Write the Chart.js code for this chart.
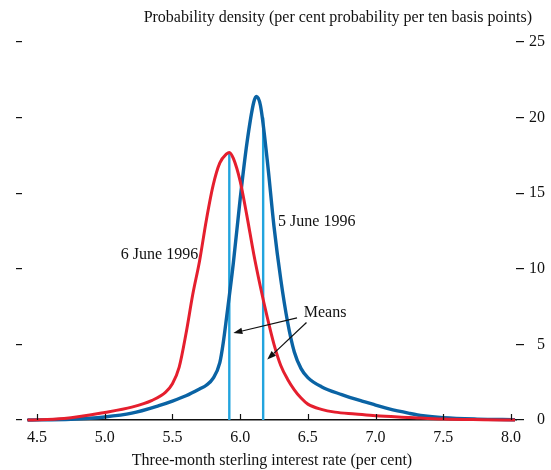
<!DOCTYPE html>
<html>
<head>
<meta charset="utf-8">
<script src="https://cdn.jsdelivr.net/npm/chart.js@4/dist/chart.umd.min.js"></script>
<style>
  html, body { margin: 0; padding: 0; background: #fff; }
  #wrap { width: 551px; height: 470px; }
</style>
</head>
<body>
<div id="wrap"><canvas id="c" width="551" height="470"></canvas></div>
<script>
// Three-month sterling interest rate (per cent)
const rates5June = [4.43, 4.75, 5.0, 5.2, 5.4, 5.5, 5.6, 5.7, 5.75, 5.8, 5.85, 5.875, 5.9, 5.95, 6.0, 6.05, 6.1, 6.12, 6.15, 6.2, 6.25, 6.3, 6.35, 6.4, 6.45, 6.5, 6.6, 6.75, 6.9, 7.0, 7.1, 7.25, 7.35, 7.5, 7.75, 8.03];
// Probability density, 5 June 1996
const density5June = [0, 0.05, 0.2, 0.45, 0.95, 1.25, 1.6, 2.05, 2.3, 2.75, 3.8, 5.1, 6.8, 10.4, 14.6, 18.3, 21.0, 21.4, 20.8, 17.2, 12.8, 9.3, 6.5, 4.5, 3.4, 2.8, 2.2, 1.68, 1.25, 0.99, 0.73, 0.44, 0.28, 0.15, 0.06, 0.02];

const rates6June = [4.43, 4.7, 5.0, 5.2, 5.35, 5.45, 5.5, 5.55, 5.6, 5.65, 5.7, 5.75, 5.8, 5.85, 5.9, 5.92, 5.95, 6.0, 6.05, 6.1, 6.15, 6.2, 6.25, 6.3, 6.35, 6.4, 6.45, 6.5, 6.6, 6.7, 6.85, 7.0, 7.25, 7.5, 7.8, 8.03];
// Probability density, 6 June 1996
const density6June = [0, 0.1, 0.5, 0.85, 1.3, 1.85, 2.4, 3.5, 5.7, 8.3, 10.5, 13.2, 15.5, 17.0, 17.6, 17.7, 17.3, 15.8, 13.5, 11.0, 8.8, 6.8, 5.0, 3.6, 2.7, 2.0, 1.45, 1.05, 0.7, 0.52, 0.4, 0.28, 0.17, 0.06, 0.02, 0];

// Means of the two distributions and the density at each mean
const meanRates = [5.92, 6.17];
const meanDensities = [17.7, 20.0];

const xTicks = [4.5, 5.0, 5.5, 6.0, 6.5, 7.0, 7.5, 8.0];
const yTicks = [0, 5, 10, 15, 20, 25];

const RED = '#e51f2e';
const BLUE = '#0a63a4';
const CYAN = '#22a4de';
const SERIF = '"Liberation Serif", "DejaVu Serif", serif';
const FONT_SIZE = 16;

const pts = (xs, ys) => xs.map((x, i) => ({ x: x, y: ys[i] }));

// Callouts in data coordinates
const annotations = {
  texts: [
    { text: '6 June 1996', x: 5.69, y: 10.9, align: 'right' },
    { text: '5 June 1996', x: 6.28, y: 13.1, align: 'left' },
    { text: 'Means', x: 6.47, y: 7.1, align: 'left' }
  ],
  arrows: [
    { from: [6.42, 6.75], to: [5.95, 5.75] },
    { from: [6.49, 6.45], to: [6.2, 4.0] }
  ]
};

const annotationPlugin = {
  id: 'callouts',
  afterDatasetsDraw(chart) {
    const { ctx, scales } = chart;
    const xs = scales.x, ys = scales.y;
    ctx.save();
    ctx.font = FONT_SIZE + 'px ' + SERIF;
    ctx.fillStyle = '#111';
    ctx.textBaseline = 'middle';
    annotations.texts.forEach(t => {
      ctx.textAlign = t.align;
      ctx.fillText(t.text, xs.getPixelForValue(t.x), ys.getPixelForValue(t.y));
    });
    ctx.strokeStyle = '#111';
    ctx.fillStyle = '#111';
    ctx.lineWidth = 1.2;
    annotations.arrows.forEach(a => {
      const x1 = xs.getPixelForValue(a.from[0]), y1 = ys.getPixelForValue(a.from[1]);
      const x2 = xs.getPixelForValue(a.to[0]), y2 = ys.getPixelForValue(a.to[1]);
      const ang = Math.atan2(y2 - y1, x2 - x1);
      const hl = 9, hw = 3.2;
      const bx = x2 - hl * Math.cos(ang), by = y2 - hl * Math.sin(ang);
      ctx.beginPath();
      ctx.moveTo(x1, y1);
      ctx.lineTo(bx, by);
      ctx.stroke();
      ctx.beginPath();
      ctx.moveTo(x2, y2);
      ctx.lineTo(bx + hw * Math.sin(ang), by - hw * Math.cos(ang));
      ctx.lineTo(bx - hw * Math.sin(ang), by + hw * Math.cos(ang));
      ctx.closePath();
      ctx.fill();
    });
    // value-axis caption above the plot, right aligned
    ctx.textAlign = 'right';
    ctx.textBaseline = 'middle';
    ctx.fillText('Probability density (per cent probability per ten basis points)', 532, 18);
    ctx.restore();
  }
};

// Short upward tick marks on the rate axis
const innerTicksPlugin = {
  id: 'innerTicks',
  afterDatasetsDraw(chart) {
    const { ctx, scales, chartArea } = chart;
    const xs = scales.x;
    ctx.save();
    ctx.strokeStyle = '#111';
    ctx.lineWidth = 1.2;
    xs.ticks.forEach((t, i) => {
      const px = Math.round(xs.getPixelForTick(i)) + 0.5;
      ctx.beginPath();
      ctx.moveTo(px, chartArea.bottom);
      ctx.lineTo(px, chartArea.bottom - 6);
      ctx.stroke();
    });
    ctx.restore();
  }
};

new Chart(document.getElementById('c'), {
  type: 'line',
  data: {
    datasets: [
      { data: pts(rates6June, density6June), borderColor: RED, borderWidth: 3, pointRadius: 0, cubicInterpolationMode: 'monotone', clip: 6 },
      { data: pts(rates5June, density5June), borderColor: BLUE, borderWidth: 3.4, pointRadius: 0, cubicInterpolationMode: 'monotone', clip: 6 },
      { data: [{ x: meanRates[0], y: 0 }, { x: meanRates[0], y: meanDensities[0] }], borderColor: CYAN, borderWidth: 2.4, pointRadius: 0, clip: 6 },
      { data: [{ x: meanRates[1], y: 0 }, { x: meanRates[1], y: meanDensities[1] }], borderColor: CYAN, borderWidth: 2.4, pointRadius: 0, clip: 6 }
    ]
  },
  options: {
    responsive: false,
    animation: false,
    events: [],
    layout: { padding: { left: 16, right: 6, top: 42, bottom: 0 } },
    plugins: { legend: { display: false }, tooltip: { enabled: false }, title: { display: false } },
    scales: {
      x: {
        type: 'linear',
        min: 4.4335,
        max: 8.037,
        afterBuildTicks: s => { s.ticks = xTicks.map(v => ({ value: v })); },
        afterFit: s => { s.height = 50; },
        border: { display: true, color: '#111', width: 1.4 },
        grid: { display: true, drawOnChartArea: false, drawTicks: false },
        ticks: {
          color: '#111',
          font: { family: SERIF, size: FONT_SIZE },
          padding: 8,
          maxRotation: 0,
          callback: v => v.toFixed(1)
        },
        title: {
          display: true,
          text: 'Three-month sterling interest rate (per cent)',
          color: '#111',
          font: { family: SERIF, size: FONT_SIZE },
          padding: { top: 5, bottom: 0 }
        }
      },
      y: {
        position: 'right',
        min: 0,
        max: 25,
        afterBuildTicks: s => { s.ticks = yTicks.map(v => ({ value: v })); },
        afterFit: s => { s.width = 29; },
        border: { display: false },
        grid: { drawOnChartArea: false, drawTicks: true, tickLength: 8, color: '#111', lineWidth: 1.2 },
        ticks: {
          color: '#111',
          font: { family: SERIF, size: FONT_SIZE },
          padding: 3,
          crossAlign: 'far'
        }
      },
      yLeft: {
        position: 'left',
        min: 0,
        max: 25,
        afterBuildTicks: s => { s.ticks = yTicks.map(v => ({ value: v })); },
        border: { display: false },
        grid: { drawOnChartArea: false, drawTicks: true, tickLength: 12, tickBorderDash: [6, 20], color: '#111', lineWidth: 1.2 },
        ticks: { display: false }
      }
    }
  },
  plugins: [innerTicksPlugin, annotationPlugin]
});
</script>
</body>
</html>
